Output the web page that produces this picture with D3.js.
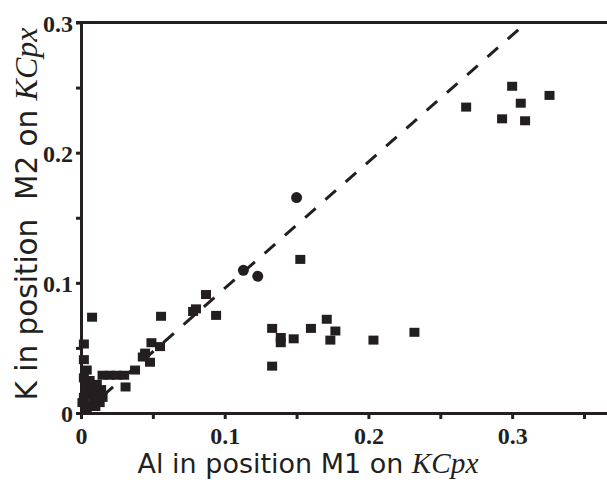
<!DOCTYPE html>
<html>
<head>
<meta charset="utf-8">
<script src="https://cdn.jsdelivr.net/npm/d3@7"></script>
<style>
  body { margin: 0; background: #fff; }
  svg { display: block; }
  .tick text { font-family: "Liberation Serif", serif; font-weight: bold; font-size: 24px; fill: #231f20; }
  .title { font-family: "DejaVu Sans", sans-serif; fill: #231f20; white-space: pre; }
  .title .it { font-family: "Liberation Serif", serif; font-style: italic; }
</style>
</head>
<body>
<div id="chart"></div>
<script>
// squares (Al M1, K M2)
const squareX = [0.268, 0.300, 0.306, 0.293, 0.309, 0.326,
  0.1526, 0.087, 0.080, 0.078, 0.094,
  0.133, 0.139, 0.139, 0.148, 0.160, 0.171, 0.177, 0.1735, 0.133, 0.2035, 0.232,
  0.049, 0.055, 0.0446, 0.043, 0.048, 0.0376, 0.031, 0.0557, 0.0077,
  0.002, 0.002, 0.004,
  0.015, 0.020, 0.025, 0.030,
  0.001, 0.002, 0.003, 0.004, 0.006, 0.008, 0.010, 0.012, 0.007, 0.004, 0.010, 0.013, 0.015, 0.005, 0.009, 0.011, 0.002, 0.014];
const squareY = [0.235, 0.251, 0.238, 0.226, 0.2245, 0.244,
  0.118, 0.091, 0.080, 0.078, 0.075,
  0.065, 0.058, 0.054, 0.057, 0.065, 0.072, 0.063, 0.056, 0.036, 0.056, 0.062,
  0.054, 0.051, 0.046, 0.043, 0.039, 0.033, 0.020, 0.0743, 0.0736,
  0.053, 0.041, 0.033,
  0.029, 0.029, 0.029, 0.029,
  0.008, 0.012, 0.018, 0.022, 0.025, 0.020, 0.015, 0.010, 0.006, 0.004, 0.005, 0.008, 0.012, 0.014, 0.011, 0.022, 0.027, 0.018];
// circles
const circleX = [0.150, 0.113, 0.123];
const circleY = [0.1655, 0.1096, 0.105];
// dashed reference line
const lineX = [0.015, 0.309];
const lineY = [0.013, 0.299];
const tickValues = [0, 0.05, 0.1, 0.15, 0.2, 0.25, 0.3];
const xTickValues = [0, 0.05, 0.1, 0.15, 0.2, 0.25, 0.3, 0.35];

const width = 607, height = 482;
const ink = '#231f20';

const svg = d3.select('#chart').append('svg')
    .attr('width', width)
    .attr('height', height);

const x = d3.scaleLinear().domain([0, 0.366]).range([81, 607]);
const y = d3.scaleLinear().domain([0, 0.3]).range([413, 22.5]);

const fmt = d => (Math.round(d * 100) % 10 === 0) ? (d === 0 ? '0' : d.toFixed(1)) : '';

// top border
svg.append('line')
    .attr('x1', 76).attr('x2', width)
    .attr('y1', y(0.3)).attr('y2', y(0.3))
    .attr('stroke', ink).attr('stroke-width', 3);

const yAxis = svg.append('g')
    .attr('transform', `translate(${x(0)},0)`)
    .call(d3.axisLeft(y).tickValues(tickValues).tickFormat(fmt).tickSize(5).tickSizeOuter(0).tickPadding(3));

const xAxis = svg.append('g')
    .attr('transform', `translate(0,${y(0)})`)
    .call(d3.axisBottom(x).tickValues(xTickValues).tickFormat(fmt).tickSize(6).tickSizeOuter(0).tickPadding(8));

[yAxis, xAxis].forEach(g => {
    g.select('.domain').attr('stroke', ink).attr('stroke-width', 3);
    g.selectAll('.tick line').attr('stroke', ink).attr('stroke-width', 3);
});
yAxis.selectAll('.tick text').attr('dy', '0.36em');

// dashed line
svg.append('line')
    .attr('x1', x(lineX[0])).attr('y1', y(lineY[0]))
    .attr('x2', x(lineX[1])).attr('y2', y(lineY[1]))
    .attr('stroke', ink).attr('stroke-width', 3)
    .attr('stroke-dasharray', '14 13');

// markers
svg.append('g')
    .selectAll('rect')
    .data(squareX.map((v, i) => [v, squareY[i]]))
    .enter()
    .append('rect')
    .attr('x', d => x(d[0]) - 5)
    .attr('y', d => y(d[1]) - 4.5)
    .attr('width', 10)
    .attr('height', 9)
    .attr('fill', ink);

svg.append('g')
    .selectAll('circle')
    .data(circleX.map((v, i) => [v, circleY[i]]))
    .enter()
    .append('circle')
    .attr('cx', d => x(d[0]))
    .attr('cy', d => y(d[1]))
    .attr('r', 5.5)
    .attr('fill', ink);

// axis titles
function title(sans, tx, ty, rot, targetWidth) {
    const t = svg.append('text')
        .attr('class', 'title')
        .attr('text-anchor', 'middle')
        .attr('transform', `translate(${tx},${ty}) rotate(${rot})`)
        .style('font-size', '24px');
    t.append('tspan').text(sans);
    t.append('tspan').attr('class', 'it').style('font-size', '26px').text('KCpx');
    const w = t.node().getComputedTextLength();
    const k = targetWidth / w;
    t.style('font-size', (24 * k) + 'px');
    t.select('.it').style('font-size', (26 * k) + 'px');
}

title('Al in position M1 on ', 308, 473, 0, 341);
title('K in position  M2 on ', 37, 214, -90, 373);
</script>
</body>
</html>
